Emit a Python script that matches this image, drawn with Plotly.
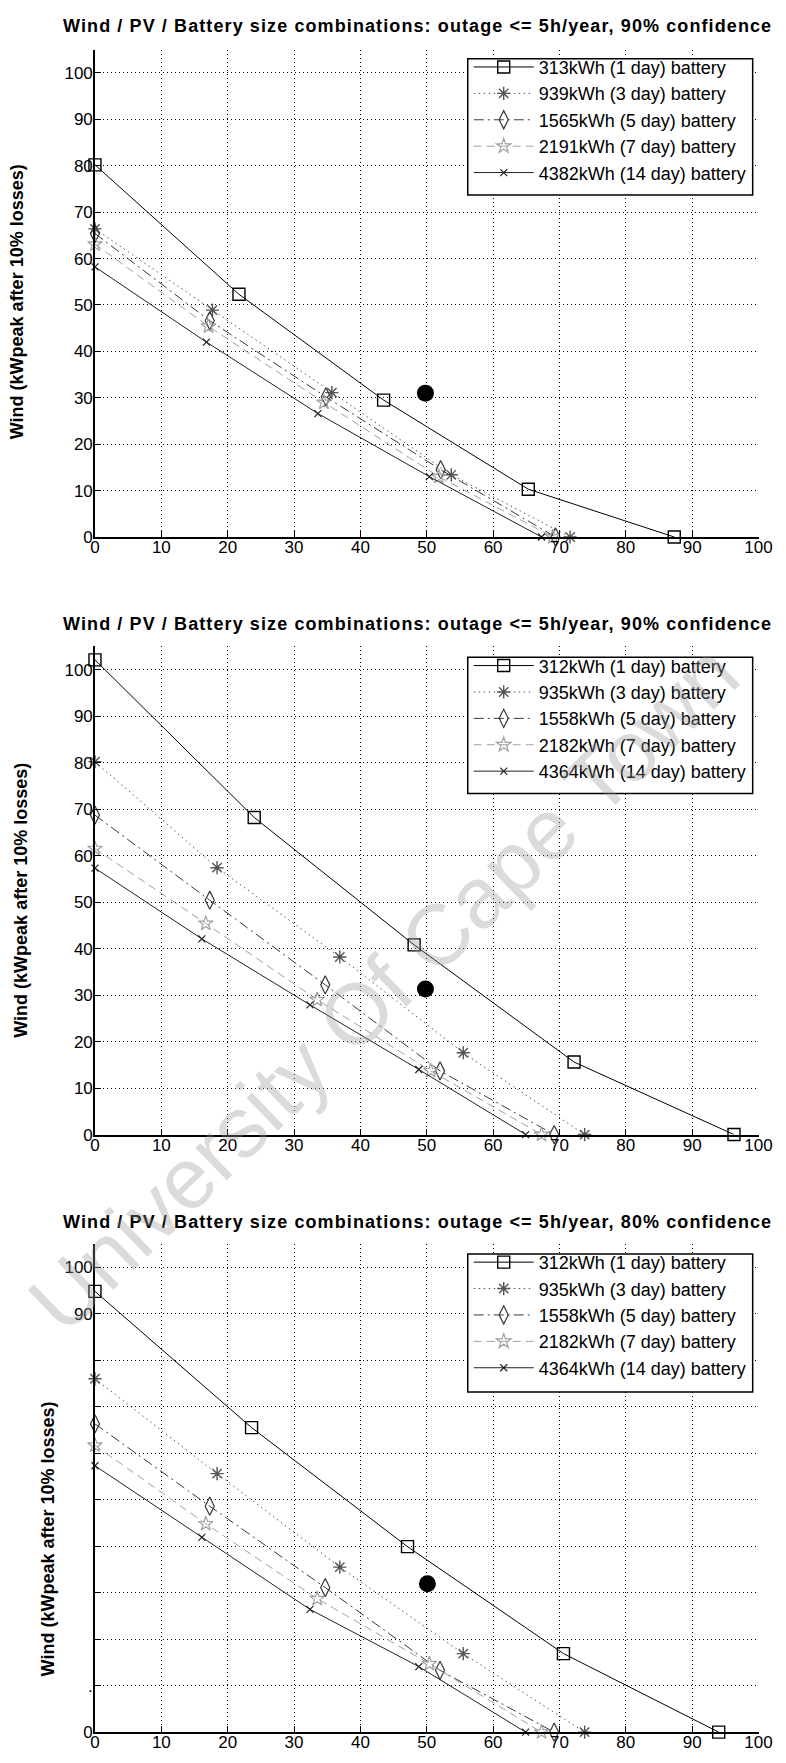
import plotly.graph_objects as go

# --- values (x = PV kWpeak, y = wind kWpeak) ---
titles = [
    'Wind / PV / Battery size combinations: outage <= 5h/year, 90% confidence',
    'Wind / PV / Battery size combinations: outage <= 5h/year, 90% confidence',
    'Wind / PV / Battery size combinations: outage <= 5h/year, 80% confidence',
]
labels_top = ['313kWh (1 day) battery', '939kWh (3 day) battery', '1565kWh (5 day) battery',
              '2191kWh (7 day) battery', '4382kWh (14 day) battery']
labels_low = ['312kWh (1 day) battery', '935kWh (3 day) battery', '1558kWh (5 day) battery',
              '2182kWh (7 day) battery', '4364kWh (14 day) battery']

pv_p1 = [[0, 21.7, 43.5, 65.3, 87.3],
         [0, 17.7, 35.7, 53.7, 71.6],
         [0, 17.3, 34.8, 52.1, 69.4],
         [0, 17.1, 34.5, 51.8, 69.0],
         [0, 16.8, 33.6, 50.4, 67.3]]
wind_p1 = [[80.2, 52.3, 29.5, 10.3, 0],
           [66.4, 48.9, 31.1, 13.4, 0],
           [65.4, 46.6, 30.2, 14.5, 0],
           [63.1, 45.4, 29.0, 13.0, 0],
           [58.2, 42.0, 26.6, 13.0, 0]]

pv_p2 = [[0, 24.0, 48.1, 72.2, 96.3],
         [0, 18.4, 36.9, 55.5, 73.8],
         [0, 17.3, 34.7, 52.0, 69.2],
         [0, 16.7, 33.5, 50.6, 67.3],
         [0, 16.1, 32.4, 48.8, 64.9]]
wind_p2 = [[102.1, 68.2, 40.8, 15.6, 0],
           [80.2, 57.4, 38.2, 17.6, 0],
           [68.7, 50.4, 32.2, 13.7, 0],
           [61.5, 45.4, 29.0, 13.7, 0],
           [57.3, 42.1, 27.9, 14.0, 0]]

pv_p3 = [[0, 23.6, 47.1, 70.6, 94.0],
         [0, 18.4, 36.9, 55.5, 73.8],
         [0, 17.3, 34.7, 52.0, 69.2],
         [0, 16.7, 33.5, 50.4, 67.3],
         [0, 16.1, 32.4, 48.8, 64.9]]
wind_p3 = [[94.8, 65.5, 39.9, 16.9, 0],
           [76.0, 55.6, 35.5, 16.9, 0],
           [66.3, 48.6, 31.1, 13.3, 0],
           [61.7, 44.8, 28.7, 14.7, 0],
           [57.3, 41.9, 26.4, 14.1, 0]]

chosen_pv = [49.8, 49.8, 50.1]
chosen_wind = [31.0, 31.3, 31.9]

tick_vals = list(range(0, 101, 10))
ytick_text_p3 = ['0', '.', '', '', '', '', '', '', '', '90', '100']

W, H = 786, 1763
FONT = 'Arial, Liberation Sans, sans-serif'

# series styles (MATLAB-like greyscale)
styles = [
    dict(color='#000000', dash='solid', symbol='square-open', size=12, mw=1.4),
    dict(color='#555555', dash='1.5px,3.5px', symbol='asterisk-open', size=11, mw=1.4),
    dict(color='#383838', dash='10px,4px,2px,4px', symbol='diamond-tall-open', size=13, mw=1.2),
    dict(color='#a0a0a0', dash='8px,5px', symbol='star-open', size=11, mw=1.2),
    dict(color='#222222', dash='solid', symbol='x-thin-open', size=7, mw=1.2),
]

# panel geometry in pixels
panels_px = [(42, 532), (642, 1133), (1243, 1734)]
x0_px, x1_px = 84, 764
legend_box_px = [(51, 188), (653, 790), (1253, 1392)]
title_y_px = [18, 620, 1221]
ylabel_pos_px = [(4, 295), (8, 897), (36, 1540)]

pv_all = [pv_p1, pv_p2, pv_p3]
wind_all = [wind_p1, wind_p2, wind_p3]
labels_all = [labels_top, labels_low, labels_low]

fig = go.Figure()

for p in range(3):
    xa = 'x' if p == 0 else f'x{p + 1}'
    ya = 'y' if p == 0 else f'y{p + 1}'
    leg = 'legend' if p == 0 else f'legend{p + 1}'
    for i, st in enumerate(styles):
        fig.add_trace(go.Scatter(
            x=pv_all[p][i], y=wind_all[p][i], mode='lines+markers',
            name=labels_all[p][i], xaxis=xa, yaxis=ya, legend=leg,
            line=dict(color=st['color'], width=1, dash=st['dash']),
            marker=dict(symbol=st['symbol'], size=st['size'], color=st['color'],
                        line=dict(color=st['color'], width=st['mw'])),
            cliponaxis=False,
        ))
    fig.add_trace(go.Scatter(
        x=[chosen_pv[p]], y=[chosen_wind[p]], mode='markers', showlegend=False,
        xaxis=xa, yaxis=ya, marker=dict(symbol='circle', size=17, color='black'),
        cliponaxis=False,
    ))

layout = dict(
    width=W, height=H, margin=dict(l=0, r=0, t=0, b=0),
    paper_bgcolor='white', plot_bgcolor='white', showlegend=True,
    font=dict(family=FONT, color='black'),
)

annotations = []
shapes = []
for p in range(3):
    top, bot = panels_px[p]
    sx = '' if p == 0 else str(p + 1)
    layout[f'xaxis{sx}'] = dict(
        domain=[x0_px / W, x1_px / W], range=[0, 100], anchor=f'y{sx}',
        tickvals=tick_vals, ticks='inside', ticklen=6, tickwidth=1, tickcolor='black',
        showline=True, linecolor='black', linewidth=1.5, zeroline=False,
        showgrid=True, gridcolor='black', gridwidth=1, griddash='1px,3px',
        tickfont=dict(size=17, family=FONT), ticklabelstandoff=-6,
    )
    layout[f'yaxis{sx}'] = dict(
        domain=[1 - bot / H, 1 - top / H], range=[0, 105], anchor=f'x{sx}',
        tickvals=tick_vals, ticks='inside', ticklen=6, tickwidth=1, tickcolor='black',
        showline=True, linecolor='black', linewidth=1.5, zeroline=False,
        showgrid=True, gridcolor='black', gridwidth=1, griddash='1px,3px',
        tickfont=dict(size=17, family=FONT), ticklabelstandoff=-3,
    )
    if p == 2:
        layout[f'yaxis{sx}']['ticktext'] = ytick_text_p3

    # legend: white framed box drawn as a shape, entries placed inside it
    btop, bbot = legend_box_px[p]
    shapes.append(dict(
        type='rect', xref='paper', yref='paper', layer='above',
        x0=466 / W, x1=758 / W, y0=1 - bbot / H, y1=1 - btop / H,
        fillcolor='white', line=dict(color='black', width=1.5),
    ))
    leg = 'legend' if p == 0 else f'legend{p + 1}'
    layout[leg] = dict(
        x=467 / W, y=1 - (btop - 10) / H, xanchor='left', yanchor='top',
        bgcolor='rgba(0,0,0,0)', borderwidth=0,
        font=dict(size=18, family=FONT), itemwidth=60, tracegroupgap=0,
    )

    annotations.append(dict(
        text=f'<b><span style="letter-spacing:1.1px">{titles[p]}</span></b>',
        x=415 / W, y=1 - title_y_px[p] / H,
        xref='paper', yref='paper', xanchor='center', yanchor='middle',
        showarrow=False, font=dict(size=18, family=FONT),
    ))
    lx, ly = ylabel_pos_px[p]
    annotations.append(dict(
        text='<b>Wind (kWpeak after 10% losses)</b>', x=lx / W, y=1 - ly / H,
        xref='paper', yref='paper', xanchor='center', yanchor='middle',
        textangle=-90, showarrow=False, font=dict(size=18, family=FONT),
    ))

# watermark across the lower panels
annotations.append(dict(
    text='University Of Cape Town', x=380 / W, y=1 - 985 / H,
    xref='paper', yref='paper', xanchor='center', yanchor='middle',
    textangle=-44, showarrow=False,
    font=dict(size=86, family=FONT, color='rgba(150,150,150,0.34)'),
))
layout['annotations'] = annotations
layout['shapes'] = shapes

fig.update_layout(**layout)
fig.write_html('out.html')
